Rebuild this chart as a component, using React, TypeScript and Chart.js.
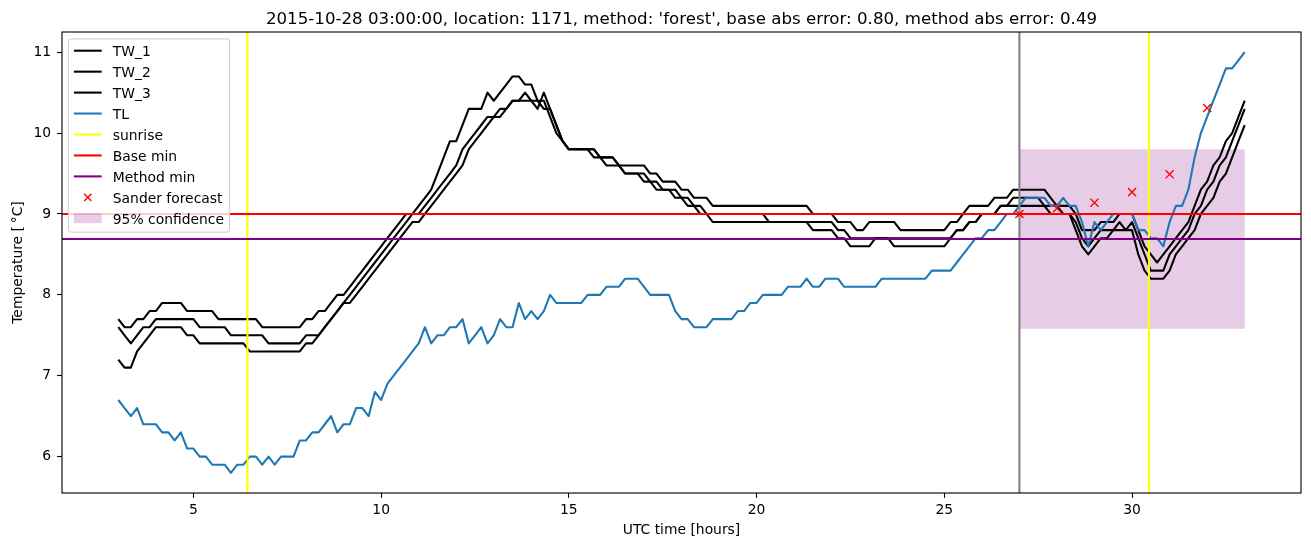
import React, { useEffect, useRef } from "react";
import { Chart, registerables } from "chart.js";

Chart.register(...registerables);

// ---------- data (10-minute samples starting at 03:00 UTC) ----------
const START_HOUR = 3;
const STEP_HOURS = 1 / 6;

const TW_1 = [
  7.7, 7.6, 7.6, 7.7, 7.7, 7.8,
  7.8, 7.9, 7.9, 7.9, 7.9, 7.8,
  7.8, 7.8, 7.8, 7.8, 7.7, 7.7,
  7.7, 7.7, 7.7, 7.7, 7.7, 7.6,
  7.6, 7.6, 7.6, 7.6, 7.6, 7.6,
  7.7, 7.7, 7.8, 7.8, 7.9, 8.0,
  8.0, 8.1, 8.2, 8.3, 8.4, 8.5,
  8.6, 8.7, 8.8, 8.9, 9.0, 9.0,
  9.1, 9.2, 9.3, 9.5, 9.7, 9.9,
  9.9, 10.1, 10.3, 10.3, 10.3, 10.5,
  10.4, 10.5, 10.6, 10.7, 10.7, 10.6,
  10.6, 10.4, 10.3, 10.3, 10.1, 9.9,
  9.8, 9.8, 9.8, 9.8, 9.8, 9.7,
  9.7, 9.7, 9.6, 9.6, 9.6, 9.6,
  9.6, 9.5, 9.5, 9.4, 9.4, 9.4,
  9.3, 9.3, 9.2, 9.2, 9.2, 9.1,
  9.1, 9.1, 9.1, 9.1, 9.1, 9.1,
  9.1, 9.1, 9.1, 9.1, 9.1, 9.1,
  9.1, 9.1, 9.1, 9.0, 9.0, 9.0,
  9.0, 8.9, 8.9, 8.9, 8.8, 8.8,
  8.9, 8.9, 8.9, 8.9, 8.9, 8.8,
  8.8, 8.8, 8.8, 8.8, 8.8, 8.8,
  8.8, 8.9, 8.9, 9.0, 9.1, 9.1,
  9.1, 9.1, 9.2, 9.2, 9.2, 9.3,
  9.3, 9.3, 9.3, 9.3, 9.3, 9.2,
  9.1, 9.1, 9.1, 9.0, 8.8, 8.8,
  8.8, 8.9, 8.9, 8.9, 9.0, 9.0,
  9.0, 8.8, 8.6, 8.5, 8.4, 8.5,
  8.6, 8.7, 8.8, 8.9, 9.1, 9.3,
  9.4, 9.6, 9.7, 9.9, 10.0, 10.2,
  10.4,
];

const TW_2 = [
  7.6, 7.5, 7.4, 7.5, 7.6, 7.6,
  7.7, 7.7, 7.7, 7.7, 7.7, 7.7,
  7.7, 7.6, 7.6, 7.6, 7.6, 7.6,
  7.5, 7.5, 7.5, 7.5, 7.5, 7.5,
  7.4, 7.4, 7.4, 7.4, 7.4, 7.4,
  7.5, 7.5, 7.5, 7.6, 7.7, 7.8,
  7.9, 8.0, 8.1, 8.2, 8.3, 8.4,
  8.5, 8.6, 8.7, 8.8, 8.9, 9.0,
  9.0, 9.1, 9.2, 9.3, 9.4, 9.5,
  9.6, 9.8, 9.9, 10.0, 10.1, 10.2,
  10.2, 10.3, 10.3, 10.4, 10.4, 10.4,
  10.4, 10.3, 10.5, 10.3, 10.1, 9.9,
  9.8, 9.8, 9.8, 9.8, 9.8, 9.7,
  9.6, 9.6, 9.6, 9.5, 9.5, 9.5,
  9.5, 9.4, 9.4, 9.3, 9.3, 9.3,
  9.2, 9.2, 9.1, 9.1, 9.0, 9.0,
  9.0, 9.0, 9.0, 9.0, 9.0, 9.0,
  9.0, 9.0, 8.9, 8.9, 8.9, 8.9,
  8.9, 8.9, 8.9, 8.9, 8.9, 8.9,
  8.9, 8.8, 8.8, 8.7, 8.7, 8.7,
  8.7, 8.7, 8.7, 8.7, 8.7, 8.7,
  8.7, 8.7, 8.7, 8.7, 8.7, 8.7,
  8.7, 8.7, 8.8, 8.8, 8.9, 8.9,
  9.0, 9.0, 9.0, 9.1, 9.1, 9.2,
  9.2, 9.2, 9.2, 9.2, 9.1, 9.1,
  9.1, 9.0, 9.0, 8.9, 8.7, 8.6,
  8.7, 8.8, 8.8, 8.8, 8.9, 8.8,
  8.9, 8.7, 8.5, 8.3, 8.3, 8.3,
  8.5, 8.6, 8.7, 8.8, 9.0, 9.1,
  9.3, 9.4, 9.6, 9.7, 9.9, 10.1,
  10.3,
];

const TW_3 = [
  7.2, 7.1, 7.1, 7.3, 7.4, 7.5,
  7.6, 7.6, 7.6, 7.6, 7.6, 7.5,
  7.5, 7.4, 7.4, 7.4, 7.4, 7.4,
  7.4, 7.4, 7.4, 7.3, 7.3, 7.3,
  7.3, 7.3, 7.3, 7.3, 7.3, 7.3,
  7.4, 7.4, 7.5, 7.6, 7.7, 7.8,
  7.9, 7.9, 8.0, 8.1, 8.2, 8.3,
  8.4, 8.5, 8.6, 8.7, 8.8, 8.9,
  8.9, 9.0, 9.1, 9.2, 9.3, 9.4,
  9.5, 9.6, 9.8, 9.9, 10.0, 10.1,
  10.2, 10.2, 10.3, 10.4, 10.4, 10.5,
  10.4, 10.4, 10.4, 10.2, 10.0, 9.9,
  9.8, 9.8, 9.8, 9.8, 9.7, 9.7,
  9.7, 9.7, 9.6, 9.5, 9.5, 9.5,
  9.4, 9.4, 9.3, 9.3, 9.3, 9.2,
  9.2, 9.1, 9.1, 9.0, 9.0, 8.9,
  8.9, 8.9, 8.9, 8.9, 8.9, 8.9,
  8.9, 8.9, 8.9, 8.9, 8.9, 8.9,
  8.9, 8.9, 8.9, 8.8, 8.8, 8.8,
  8.8, 8.7, 8.7, 8.6, 8.6, 8.6,
  8.6, 8.7, 8.7, 8.7, 8.6, 8.6,
  8.6, 8.6, 8.6, 8.6, 8.6, 8.6,
  8.6, 8.7, 8.8, 8.8, 8.9, 8.9,
  9.0, 9.0, 9.0, 9.1, 9.1, 9.1,
  9.1, 9.1, 9.1, 9.1, 9.1, 9.0,
  9.0, 9.0, 9.0, 8.8, 8.6, 8.5,
  8.6, 8.7, 8.7, 8.8, 8.8, 8.8,
  8.8, 8.5, 8.3, 8.2, 8.2, 8.2,
  8.3, 8.5, 8.6, 8.7, 8.8, 9.0,
  9.1, 9.2, 9.4, 9.5, 9.7, 9.9,
  10.1,
];

const TL = [
  6.7, 6.6, 6.5, 6.6, 6.4, 6.4,
  6.4, 6.3, 6.3, 6.2, 6.3, 6.1,
  6.1, 6.0, 6.0, 5.9, 5.9, 5.9,
  5.8, 5.9, 5.9, 6.0, 6.0, 5.9,
  6.0, 5.9, 6.0, 6.0, 6.0, 6.2,
  6.2, 6.3, 6.3, 6.4, 6.5, 6.3,
  6.4, 6.4, 6.6, 6.6, 6.5, 6.8,
  6.7, 6.9, 7.0, 7.1, 7.2, 7.3,
  7.4, 7.6, 7.4, 7.5, 7.5, 7.6,
  7.6, 7.7, 7.4, 7.5, 7.6, 7.4,
  7.5, 7.7, 7.6, 7.6, 7.9, 7.7,
  7.8, 7.7, 7.8, 8.0, 7.9, 7.9,
  7.9, 7.9, 7.9, 8.0, 8.0, 8.0,
  8.1, 8.1, 8.1, 8.2, 8.2, 8.2,
  8.1, 8.0, 8.0, 8.0, 8.0, 7.8,
  7.7, 7.7, 7.6, 7.6, 7.6, 7.7,
  7.7, 7.7, 7.7, 7.8, 7.8, 7.9,
  7.9, 8.0, 8.0, 8.0, 8.0, 8.1,
  8.1, 8.1, 8.2, 8.1, 8.1, 8.2,
  8.2, 8.2, 8.1, 8.1, 8.1, 8.1,
  8.1, 8.1, 8.2, 8.2, 8.2, 8.2,
  8.2, 8.2, 8.2, 8.2, 8.3, 8.3,
  8.3, 8.3, 8.4, 8.5, 8.6, 8.7,
  8.7, 8.8, 8.8, 8.9, 9.0, 9.0,
  9.1, 9.2, 9.2, 9.2, 9.2, 9.1,
  9.1, 9.2, 9.1, 9.1, 8.9, 8.6,
  8.9, 8.8, 8.9, 9.0, 9.0, 9.0,
  9.0, 8.8, 8.8, 8.7, 8.7, 8.6,
  8.9, 9.1, 9.1, 9.3, 9.7, 10.0,
  10.2, 10.4, 10.6, 10.8, 10.8, 10.9,
  11.0,
];

const SUNRISE_HOURS = [6.44, 30.45];
const FORECAST_START_HOUR = 27.0;
const BASE_MIN = 9.0;
const METHOD_MIN = 8.69;
const SANDER_HOURS = [27, 28, 29, 30, 31, 32];
const SANDER_VALUES = [9.0, 9.07, 9.14, 9.27, 9.49, 10.31];
const CONF_START = 27;
const CONF_END = 33;
const CONF_LOW = 7.58;
const CONF_HIGH = 9.8;

const X_TICKS = [5, 10, 15, 20, 25, 30];
const Y_TICKS = [6, 7, 8, 9, 10, 11];
const X_MIN = 1.5;
const X_MAX = 34.5;
const Y_MIN = 5.55;
const Y_MAX = 11.25;

const TITLE =
  "2015-10-28 03:00:00, location: 1171, method: 'forest', base abs error: 0.80, method abs error: 0.49";
const X_LABEL = "UTC time [hours]";
const Y_LABEL = "Temperature [\u2009\u00b0C]";
const CONF_LABEL = "95% confidence";

// ---------- styling ----------
const W = 1311;
const H = 547;
const FONT = "'DejaVu Sans', 'Liberation Sans', sans-serif";
const PT = 100 / 72;
const FS = 10 * PT;
const LW = 1.5 * PT;
const CONF_COLOR = "rgba(128, 0, 128, 0.2)";

const toPoints = (vals: number[]) =>
  vals.map((v, i) => ({ x: START_HOUR + i * STEP_HOURS, y: v }));

const vLines = (hours: number[]) => {
  const pts: { x: number; y: number | null }[] = [];
  hours.forEach((h, i) => {
    if (i > 0) pts.push({ x: h, y: null });
    pts.push({ x: h, y: Y_MIN - 10 });
    pts.push({ x: h, y: Y_MAX + 10 });
  });
  return pts;
};

const hLine = (v: number) => [
  { x: X_MIN - 10, y: v },
  { x: X_MAX + 10, y: v },
];

const lineDs = (label: string, data: any[], color: string, extra: any = {}) => ({
  label,
  data,
  borderColor: color,
  backgroundColor: color,
  borderWidth: LW,
  pointRadius: 0,
  pointHoverRadius: 0,
  fill: false,
  tension: 0,
  borderJoinStyle: "round",
  borderCapStyle: "butt",
  legendShape: "line",
  ...extra,
});

function buildDatasets() {
  const ds: any[] = [
    lineDs("TW_1", toPoints(TW_1), "#000000"),
    lineDs("TW_2", toPoints(TW_2), "#000000"),
    lineDs("TW_3", toPoints(TW_3), "#000000"),
    lineDs("TL", toPoints(TL), "#1f77b4"),
    lineDs("", vLines([FORECAST_START_HOUR]), "#808080", { legendShape: "none" }),
    lineDs("sunrise", vLines(SUNRISE_HOURS), "#ffff00"),
    lineDs("Base min", hLine(BASE_MIN), "#ff0000"),
    lineDs("Method min", hLine(METHOD_MIN), "#800080"),
    {
      label: "Sander forecast",
      data: SANDER_HOURS.map((h, i) => ({ x: h, y: SANDER_VALUES[i] })),
      showLine: false,
      borderColor: "#ff0000",
      backgroundColor: "#ff0000",
      pointStyle: "crossRot",
      pointRadius: 5.7,
      pointHoverRadius: 5.7,
      pointBorderWidth: 1.0 * PT,
      legendShape: "cross",
    },
  ];
  ds.forEach((d, i) => {
    d.order = 100 - i;
    d.spanGaps = false;
    d.clip = 0;
  });
  return ds;
}

const decorPlugin = {
  id: "decor",
  beforeDatasetsDraw(chart: any) {
    const { ctx, chartArea: a, scales } = chart;
    const x = scales.x;
    const y = scales.y;
    ctx.save();
    ctx.beginPath();
    ctx.rect(a.left, a.top, a.right - a.left, a.bottom - a.top);
    ctx.clip();
    const x0 = x.getPixelForValue(CONF_START);
    const x1 = x.getPixelForValue(CONF_END);
    const y0 = y.getPixelForValue(CONF_HIGH);
    const y1 = y.getPixelForValue(CONF_LOW);
    ctx.fillStyle = CONF_COLOR;
    ctx.fillRect(x0, y0, x1 - x0, y1 - y0);
    ctx.restore();
  },
  afterDatasetsDraw(chart: any) {
    const { ctx, chartArea: a } = chart;
    ctx.save();
    ctx.strokeStyle = "#000";
    ctx.lineWidth = 0.8 * PT;
    ctx.strokeRect(a.left, a.top, a.right - a.left, a.bottom - a.top);
    ctx.restore();
  },
  afterDraw(chart: any) {
    const { ctx, chartArea: a } = chart;
    const cx = (a.left + a.right) / 2;
    const cy = (a.top + a.bottom) / 2;
    ctx.save();
    ctx.fillStyle = "#000";
    // title
    ctx.font = `${12 * PT}px ${FONT}`;
    ctx.textAlign = "center";
    ctx.textBaseline = "alphabetic";
    ctx.fillText(TITLE, cx, a.top - 6 * PT);
    // axis labels
    ctx.font = `${FS}px ${FONT}`;
    ctx.textBaseline = "middle";
    ctx.fillText(X_LABEL, cx, 530);
    ctx.save();
    ctx.translate(18, cy);
    ctx.rotate(-Math.PI / 2);
    ctx.fillText(Y_LABEL, 0, 0);
    ctx.restore();

    // legend
    const items: { label: string; color: string; shape: string }[] = [];
    chart.data.datasets.forEach((d: any) => {
      if (d.label && d.legendShape !== "none") {
        items.push({ label: d.label, color: d.borderColor, shape: d.legendShape });
      }
    });
    items.push({ label: CONF_LABEL, color: CONF_COLOR, shape: "patch" });

    ctx.font = `${FS}px ${FONT}`;
    let maxW = 0;
    items.forEach((it) => {
      maxW = Math.max(maxW, ctx.measureText(it.label).width);
    });
    const pad = 0.4 * FS;
    const handleLen = 2 * FS;
    const handlePad = 0.8 * FS;
    const pitch = 20.95;
    const lx = a.left + 0.5 * FS - 0.6;
    const ly = a.top + 0.5 * FS;
    const bw = pad * 2 + handleLen + handlePad + maxW;
    const bh = pad * 2 + items.length * pitch - (pitch - 14) + 0.5;
    // frame
    const r = 0.2 * FS;
    ctx.beginPath();
    ctx.moveTo(lx + r, ly);
    ctx.lineTo(lx + bw - r, ly);
    ctx.quadraticCurveTo(lx + bw, ly, lx + bw, ly + r);
    ctx.lineTo(lx + bw, ly + bh - r);
    ctx.quadraticCurveTo(lx + bw, ly + bh, lx + bw - r, ly + bh);
    ctx.lineTo(lx + r, ly + bh);
    ctx.quadraticCurveTo(lx, ly + bh, lx, ly + bh - r);
    ctx.lineTo(lx, ly + r);
    ctx.quadraticCurveTo(lx, ly, lx + r, ly);
    ctx.closePath();
    ctx.fillStyle = "rgba(255,255,255,0.8)";
    ctx.fill();
    ctx.strokeStyle = "#cccccc";
    ctx.lineWidth = 1;
    ctx.stroke();

    const hx0 = lx + pad;
    const hx1 = hx0 + handleLen;
    const tx = hx1 + handlePad;
    items.forEach((it, i) => {
      const ry = ly + pad + 7 - 0.8 + i * pitch;
      if (it.shape === "line") {
        ctx.strokeStyle = it.color;
        ctx.lineWidth = LW;
        ctx.beginPath();
        ctx.moveTo(hx0, ry);
        ctx.lineTo(hx1, ry);
        ctx.stroke();
      } else if (it.shape === "cross") {
        const mx = (hx0 + hx1) / 2;
        const s = 3.6;
        ctx.strokeStyle = it.color;
        ctx.lineWidth = 1.0 * PT;
        ctx.beginPath();
        ctx.moveTo(mx - s, ry - s);
        ctx.lineTo(mx + s, ry + s);
        ctx.moveTo(mx - s, ry + s);
        ctx.lineTo(mx + s, ry - s);
        ctx.stroke();
      } else if (it.shape === "patch") {
        const ph = 0.7 * FS;
        ctx.fillStyle = it.color;
        ctx.fillRect(hx0, ry - ph / 2, handleLen, ph);
      }
      ctx.fillStyle = "#000";
      ctx.textAlign = "left";
      ctx.textBaseline = "alphabetic";
      ctx.fillText(it.label, tx, ry + 5.2);
    });
    ctx.restore();
  },
};

export default function App() {
  const ref = useRef<HTMLCanvasElement | null>(null);

  useEffect(() => {
    if (!ref.current) return;
    const tickFont = { family: FONT, size: FS };
    const chart = new Chart(ref.current, {
      type: "line",
      data: { datasets: buildDatasets() },
      options: {
        responsive: false,
        animation: false,
        devicePixelRatio: 1,
        parsing: true,
        normalized: false,
        layout: { padding: { left: 0, right: 10, top: 32, bottom: 0 } },
        plugins: {
          legend: { display: false },
          title: { display: false },
          tooltip: { enabled: false },
        },
        scales: {
          x: {
            type: "linear",
            min: X_MIN,
            max: X_MAX,
            afterBuildTicks: (s: any) => {
              s.ticks = X_TICKS.map((v) => ({ value: v }));
            },
            afterFit: (s: any) => {
              s.height = 54;
            },
            grid: {
              display: true,
              drawOnChartArea: false,
              drawTicks: true,
              tickLength: 3.5 * PT,
              tickColor: "#000",
              tickWidth: 0.8 * PT,
            },
            border: { display: false },
            ticks: {
              color: "#000",
              font: tickFont,
              padding: 4,
              maxRotation: 0,
              autoSkip: false,
            },
          },
          y: {
            type: "linear",
            min: Y_MIN,
            max: Y_MAX,
            afterBuildTicks: (s: any) => {
              s.ticks = Y_TICKS.map((v) => ({ value: v }));
            },
            afterFit: (s: any) => {
              s.width = 62;
            },
            grid: {
              display: true,
              drawOnChartArea: false,
              drawTicks: true,
              tickLength: 3.5 * PT,
              tickColor: "#000",
              tickWidth: 0.8 * PT,
            },
            border: { display: false },
            ticks: {
              color: "#000",
              font: tickFont,
              padding: 6,
              autoSkip: false,
            },
          },
        },
      } as any,
      plugins: [decorPlugin],
    });
    return () => chart.destroy();
  }, []);

  return (
    <div
      style={{
        position: "fixed",
        left: 0,
        top: 0,
        width: W,
        height: H,
        background: "#ffffff",
      }}
    >
      <canvas ref={ref} width={W} height={H} style={{ display: "block", width: W, height: H }} />
    </div>
  );
}
